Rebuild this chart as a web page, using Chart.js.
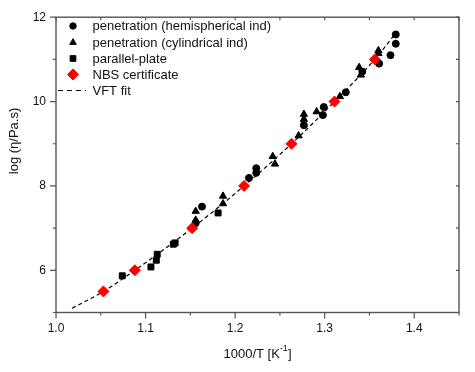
<!DOCTYPE html>
<html>
<head>
<meta charset="utf-8">
<script src="https://cdn.jsdelivr.net/npm/chart.js@4"></script>
<style>
  html, body { margin: 0; padding: 0; background: #fff; }
  #wrap { width: 475px; height: 372px; }
</style>
</head>
<body>
<div id="wrap"><canvas id="vftChart" width="475" height="372"></canvas></div>
<script>
// values
const hemiX = [1.156, 1.163, 1.2155, 1.2236, 1.2236, 1.2768, 1.299, 1.298, 1.3236, 1.342, 1.3608, 1.3735, 1.3794, 1.3794];
const hemiY = [7.12, 7.51, 8.19, 8.42, 8.31, 9.44, 9.87, 9.68, 10.22, 10.71, 10.90, 11.10, 11.59, 11.37];

const cylX = [1.156, 1.156, 1.1865, 1.1865, 1.242, 1.2445, 1.2709, 1.2768, 1.2768, 1.291, 1.317, 1.3385, 1.3404, 1.360, 1.360];
const cylY = [7.40, 7.19, 7.76, 7.58, 8.70, 8.52, 9.19, 9.70, 9.58, 9.76, 10.12, 10.81, 10.63, 11.21, 11.14];

const plateX = [1.074, 1.106, 1.112, 1.113, 1.131, 1.133, 1.181];
const plateY = [5.87, 6.08, 6.24, 6.38, 6.62, 6.65, 7.36];

const nbsX = [1.053, 1.088, 1.152, 1.210, 1.263, 1.311, 1.356];
const nbsY = [5.5, 6.0, 7.0, 8.0, 9.0, 10.0, 11.0];

const fitX = [1.018, 1.053, 1.088, 1.152, 1.210, 1.263, 1.311, 1.356, 1.380];
const fitY = [5.10, 5.5, 6.0, 7.0, 8.0, 9.0, 10.0, 11.0, 11.64];

const xTicks = [1.0, 1.1, 1.2, 1.3, 1.4];
const yTicks = [6, 8, 10, 12];

const toPoints = (xs, ys) => xs.map((x, i) => ({ x: x, y: ys[i] }));

const FONT = '"Liberation Sans", Arial, sans-serif';

// frame, minor ticks, axis titles and the in-plot legend
const framePlugin = {
    id: 'frame',
    afterDraw(chart) {
        const { ctx, chartArea: { left, right, top, bottom }, scales: { x, y } } = chart;
        ctx.save();
        ctx.strokeStyle = '#555';
        ctx.lineWidth = 1.4;
        ctx.strokeRect(left, top, right - left, bottom - top);

        ctx.lineWidth = 1.2;
        ctx.beginPath();
        for (let i = 0; i <= 9; i++) {
            const px = x.getPixelForValue(1 + i * 0.05);
            const len = i % 2 === 0 ? 6 : 3;
            ctx.moveTo(px, bottom); ctx.lineTo(px, bottom + len);
            ctx.moveTo(px, top); ctx.lineTo(px, top + 3);
        }
        for (let v = 5; v <= 12; v++) {
            const py = y.getPixelForValue(v);
            const len = v % 2 === 0 ? 6 : 3;
            ctx.moveTo(left, py); ctx.lineTo(left - len, py);
            ctx.moveTo(right, py); ctx.lineTo(right - 3, py);
        }
        ctx.stroke();

        // axis titles
        ctx.fillStyle = '#111';
        ctx.textBaseline = 'middle';
        ctx.font = '13px ' + FONT;
        const cx = (left + right) / 2;
        const a = '1000/T [K', b = ']';
        ctx.font = '13px ' + FONT;
        const wa = ctx.measureText(a).width, wb = ctx.measureText(b).width;
        ctx.font = '9px ' + FONT;
        const ws = ctx.measureText('-1').width;
        let sx = cx - (wa + ws + wb) / 2;
        ctx.textAlign = 'left';
        ctx.font = '13px ' + FONT;
        ctx.fillText(a, sx, 354);
        ctx.font = '9px ' + FONT;
        ctx.fillText('-1', sx + wa, 349);
        ctx.font = '13px ' + FONT;
        ctx.fillText(b, sx + wa + ws, 354);

        ctx.save();
        ctx.translate(14, 141);
        ctx.rotate(-Math.PI / 2);
        ctx.textAlign = 'center';
        ctx.fillText('log (\u03B7/Pa.s)', 0, 0);
        ctx.restore();

        // legend
        const rows = [26, 42.5, 58.5, 74.5, 90.5];
        chart.data.datasets.forEach((ds, i) => {
            const ry = rows[i];
            if (ds.showLine) {
                ctx.strokeStyle = '#000';
                ctx.lineWidth = 1.2;
                ctx.setLineDash([5, 4]);
                ctx.beginPath();
                ctx.moveTo(58, ry); ctx.lineTo(86, ry);
                ctx.stroke();
                ctx.setLineDash([]);
            } else {
                ctx.fillStyle = ds.backgroundColor;
                ctx.strokeStyle = ds.borderColor;
                ctx.lineWidth = 1;
                Chart.helpers.drawPoint(ctx, { pointStyle: ds.pointStyle, radius: ds.legendRadius, borderWidth: 1, rotation: 0 }, 73, ry);
            }
            ctx.fillStyle = '#111';
            ctx.textAlign = 'left';
            ctx.font = '13px ' + FONT;
            ctx.fillText(ds.label, 92.5, ry + 0.5);
        });
        ctx.restore();
    }
};

new Chart(document.getElementById('vftChart'), {
    type: 'scatter',
    data: {
        datasets: [
            { label: 'penetration (hemispherical ind)', data: toPoints(hemiX, hemiY), pointStyle: 'circle', pointRadius: 3.5, legendRadius: 3.2, backgroundColor: '#000', borderColor: '#000', order: 2 },
            { label: 'penetration (cylindrical ind)', data: toPoints(cylX, cylY), pointStyle: 'triangle', pointRadius: 4.2, legendRadius: 3.8, backgroundColor: '#000', borderColor: '#000', order: 2 },
            { label: 'parallel-plate', data: toPoints(plateX, plateY), pointStyle: 'rect', pointRadius: 4.2, legendRadius: 4, backgroundColor: '#000', borderColor: '#000', order: 2 },
            { label: 'NBS certificate', data: toPoints(nbsX, nbsY), pointStyle: 'rectRot', pointRadius: 5.5, legendRadius: 5.5, backgroundColor: '#f00', borderColor: '#f00', order: 1 },
            { label: 'VFT fit', data: toPoints(fitX, fitY), showLine: true, pointRadius: 0, borderColor: '#000', borderWidth: 1.2, borderDash: [4, 3], cubicInterpolationMode: 'monotone', fill: false, order: 3 }
        ]
    },
    options: {
        responsive: false,
        animation: false,
        layout: { padding: { top: 15, right: 16, left: 0, bottom: 0 } },
        plugins: {
            legend: { display: false },
            tooltip: { enabled: false }
        },
        scales: {
            x: {
                type: 'linear',
                min: 1.0,
                max: 1.45,
                afterBuildTicks: s => { s.ticks = xTicks.map(v => ({ value: v })); },
                afterFit: s => { s.height = 59.5; },
                grid: { display: false, drawTicks: false },
                border: { display: false },
                ticks: { padding: 9, color: '#111', font: { size: 12, family: FONT }, maxRotation: 0, callback: v => v.toFixed(1) }
            },
            y: {
                type: 'linear',
                min: 5,
                max: 12,
                afterBuildTicks: s => { s.ticks = yTicks.map(v => ({ value: v })); },
                afterFit: s => { s.width = 56; },
                grid: { display: false, drawTicks: false },
                border: { display: false },
                ticks: { padding: 10, color: '#111', font: { size: 12, family: FONT } }
            }
        }
    },
    plugins: [framePlugin]
});
</script>
</body>
</html>
